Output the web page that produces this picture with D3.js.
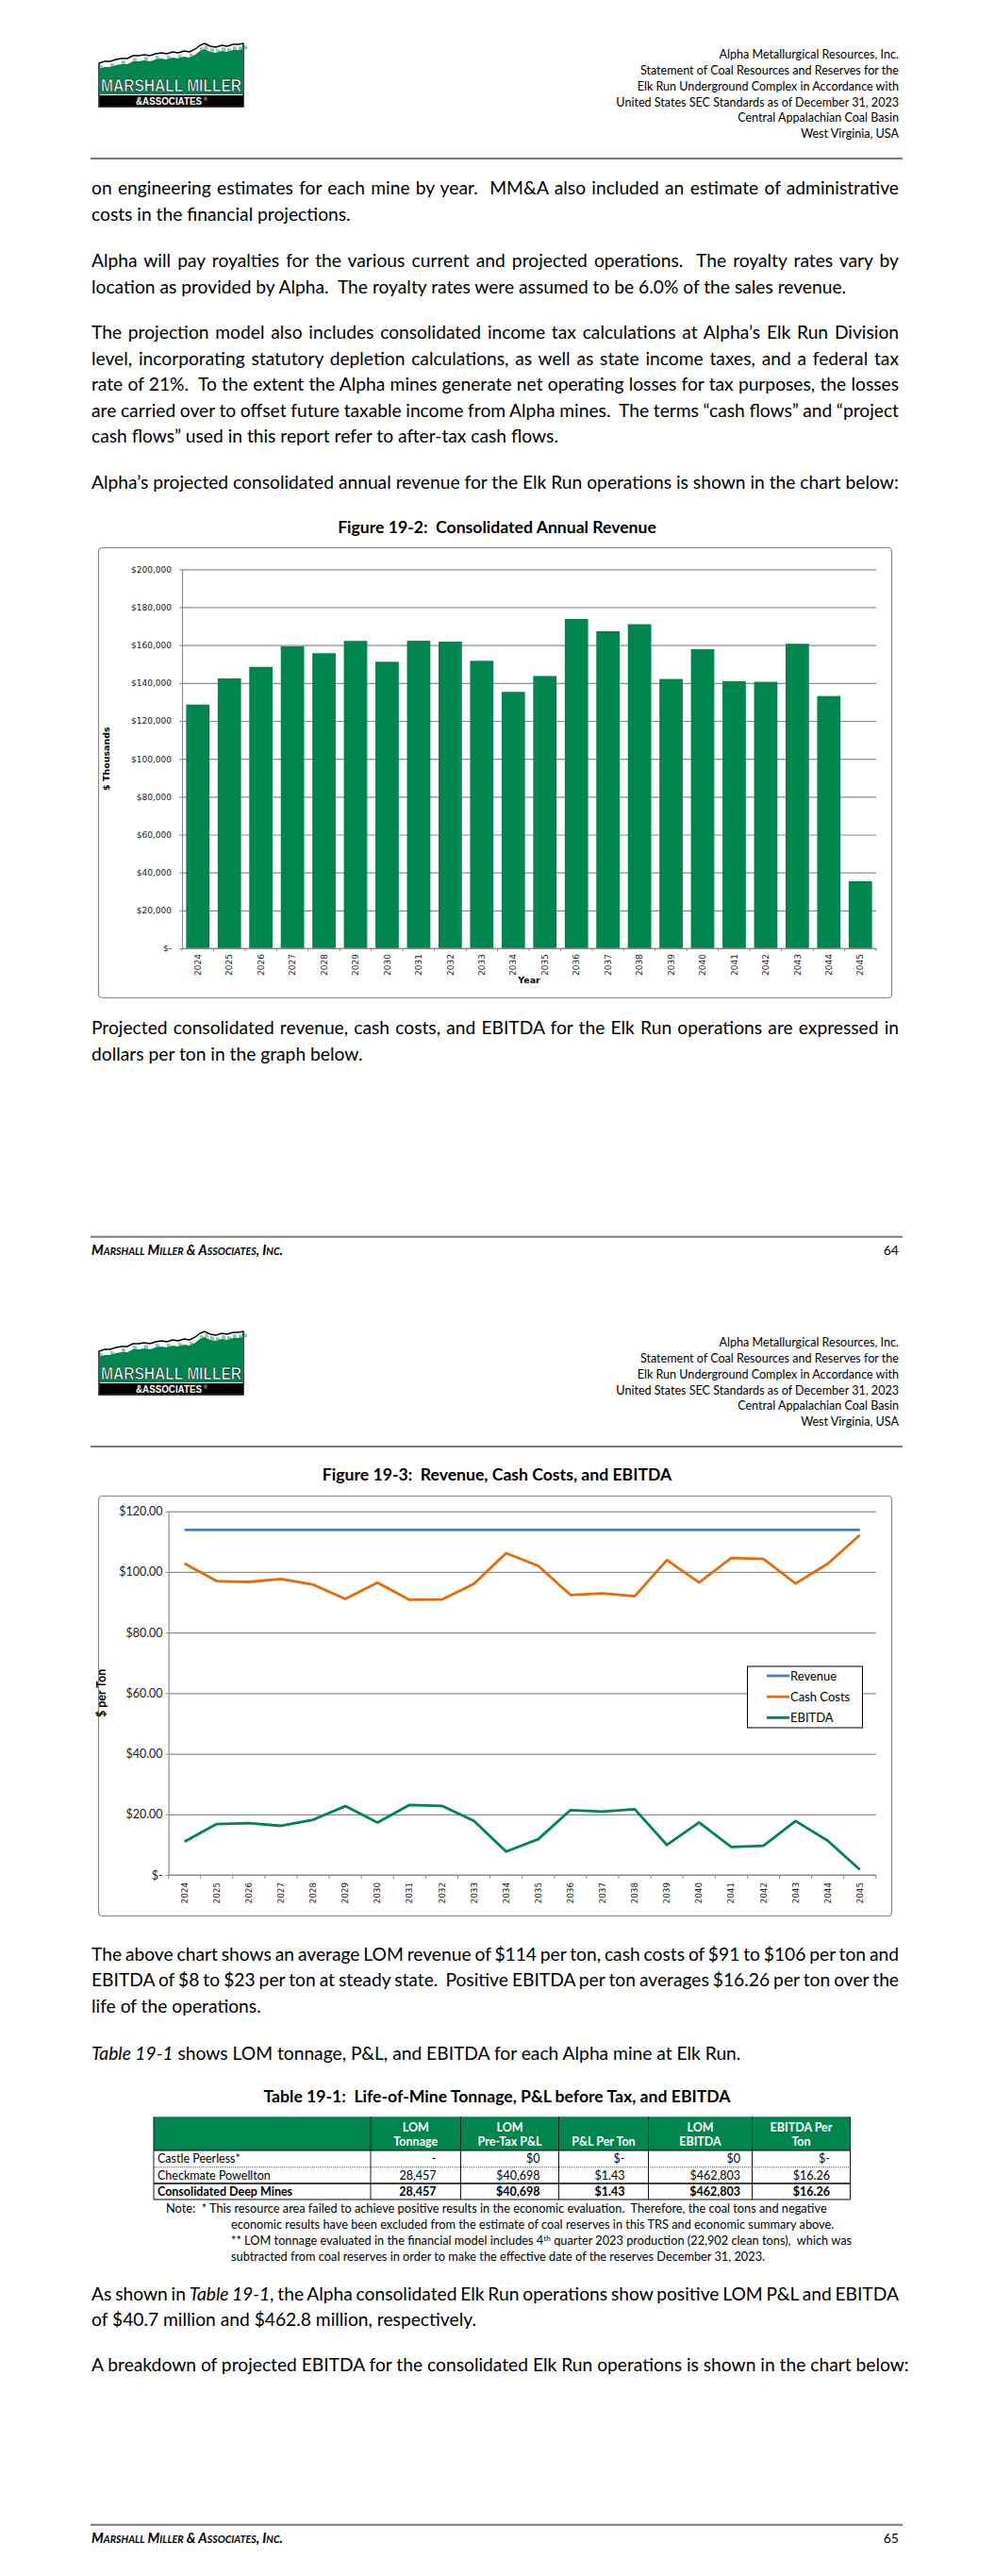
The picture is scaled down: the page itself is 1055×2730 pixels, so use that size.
<!DOCTYPE html>
<html><head><meta charset="utf-8">
<script src="https://cdn.jsdelivr.net/npm/d3@7"></script>
<style>
html,body{margin:0;padding:0;background:#fff;}
svg{display:block;}
text{white-space:pre;}
</style></head><body>
<script>
// ---------------- DATA ----------------
const years = ["2024","2025","2026","2027","2028","2029","2030","2031","2032","2033","2034",
               "2035","2036","2037","2038","2039","2040","2041","2042","2043","2044","2045"];
// Figure 19-2 : consolidated annual revenue ($ thousands)
const annualRevenue = [128600,142400,148500,159300,155700,162200,151200,162300,161800,151700,135300,
                       143700,173800,167300,171000,142100,157800,140900,140600,160700,133100,35400];
const barTicks = [0,20000,40000,60000,80000,100000,120000,140000,160000,180000,200000];
// Figure 19-3 : $ per ton
const seriesNames = ["Revenue","Cash Costs","EBITDA"];
const revenuePerTon = [113.9,113.9,113.9,113.9,113.9,113.9,113.9,113.9,113.9,113.9,113.9,
                       113.9,113.9,113.9,113.9,113.9,113.9,113.9,113.9,113.9,113.9,113.9];
const cashCostPerTon = [102.8,97.0,96.7,97.7,95.8,91.1,96.5,90.8,90.9,96.1,106.2,
                        102.0,92.4,92.9,92.0,103.9,96.5,104.6,104.3,96.2,102.7,112.2];
const ebitdaPerTon = [11.0,16.8,17.1,16.2,18.2,22.7,17.3,23.1,22.8,17.8,7.7,
                      11.8,21.4,20.9,21.7,9.9,17.3,9.2,9.6,17.8,11.3,1.7];
const lineTicks = [0,20,40,60,80,100,120];
// Table 19-1
const tableHeaders = [["",""],["LOM","Tonnage"],["LOM","Pre-Tax P&L"],["","P&L Per Ton"],["LOM","EBITDA"],["EBITDA Per","Ton"]];
const tableRows = [
  ["Castle Peerless*","-","$0","$-","$0","$-"],
  ["Checkmate Powellton","28,457","$40,698","$1.43","$462,803","$16.26"],
  ["Consolidated Deep Mines","28,457","$40,698","$1.43","$462,803","$16.26"]
];
const headerLines = ["Alpha Metallurgical Resources, Inc.","Statement of Coal Resources and Reserves for the",
  "Elk Run Underground Complex in Accordance with","United States SEC Standards as of December 31, 2023",
  "Central Appalachian Coal Basin","West Virginia, USA"];

// ---------------- SETUP ----------------
const W=1055,H=2730, L=97, R=953;
const GREEN="#00854f", FONT="Lato, 'Open Sans', sans-serif", CHARTFONT="'DejaVu Sans', Verdana, sans-serif";
const svg=d3.select("body").append("svg").attr("width",W).attr("height",H);
svg.append("rect").attr("width",W).attr("height",H).attr("fill","#fff");

const meas=svg.append("text").attr("x",-2000).attr("y",-2000).style("font-family",FONT);
function textWidth(str,size,weight="normal",style="normal"){
  meas.style("font-size",size+"px").style("font-weight",weight).style("font-style",style).text(str);
  return meas.node().getComputedTextLength();
}
function fitSize(str,target,weight="normal"){return 100*target/textWidth(str,100,weight);}

const bodySize=fitSize("Alpha’s projected consolidated annual revenue for the Elk Run operations is shown in the chart below:",856);
const headSize=fitSize("United States SEC Standards as of December 31, 2023",300);
const capSize=fitSize("Figure 19-2:  Consolidated Annual Revenue",338,"bold");
const noteSize=fitSize("Note:  * This resource area failed to achieve positive results in the economic evaluation.  Therefore, the coal tons and negative",701);

function bodyLine(str,cy,justify){
  const t=svg.append("text").attr("x",L).attr("y",cy+bodySize*0.32)
    .style("font-family",FONT).style("font-size",bodySize+"px").attr("fill","#000");
  str.split("_").forEach((seg,i)=>{ if(seg) t.append("tspan").style("font-style",i%2?"italic":"normal").text(seg); });
  if(justify){
    const w=t.node().getComputedTextLength();
    const n=(str.match(/ /g)||[]).length;
    t.style("word-spacing",((R-L)-w)/n+"px");
  }
}
function caption(str,cy){
  svg.append("text").attr("x",527).attr("y",cy+capSize*0.33).attr("text-anchor","middle")
    .style("font-family",FONT).style("font-weight","bold").style("font-size",capSize+"px").text(str);
}

function drawLogo(ox,oy){
  const g=svg.append("g").attr("transform",`translate(${ox},${oy})`);
  const ridge=[[1,22],[7,20],[13,20],[19,18],[25,17],[31,17],[37,14],[43,14],[49,13],[55,14],[61,12],[67,11],
    [73,12],[79,10],[85,11],[91,9],[97,10],[103,7],[108,3],[113,1],[119,4],[125,5],[131,3],[137,4],[143,2],[149,2],[154,1]];
  const ln=d3.line();
  g.append("path").attr("d",ln([...ridge,[154,68],[1,68]])+"Z").attr("fill","#fff").attr("stroke","#000").attr("stroke-width",1.4);
  g.append("path").attr("d",ln([...ridge.map(([x,y])=>[x,y+6]),[153.5,55],[1.5,55]])+"Z").attr("fill",GREEN);
  ridge.forEach(([x,y],i)=>{ if(i%2===0||i>18){
    g.append("line").attr("x1",x+1).attr("x2",x+1).attr("y1",y+2).attr("y2",y+6.5).attr("stroke",GREEN).attr("stroke-width",0.9);
    g.append("line").attr("x1",x+3).attr("x2",x+3).attr("y1",y+2.5).attr("y2",y+6.5).attr("stroke",GREEN).attr("stroke-width",0.9);
  }});
  g.append("rect").attr("x",1.5).attr("y",56).attr("width",152.5).attr("height",11.5).attr("fill","#000");
  g.append("text").attr("x",3).attr("y",52).attr("textLength",149).attr("lengthAdjust","spacingAndGlyphs")
    .style("font-family","'Liberation Sans Narrow','Liberation Sans',sans-serif").style("font-weight","bold").style("font-size","19px")
    .attr("fill","#fff").attr("stroke","#000").attr("stroke-width",0.6).text("MARSHALL MILLER");
  g.append("text").attr("x",40).attr("y",65.5).attr("textLength",70).attr("lengthAdjust","spacingAndGlyphs")
    .style("font-family","'Liberation Sans Narrow','Liberation Sans',sans-serif").style("font-weight","bold").style("font-size","11px")
    .attr("fill","#fff").text("&ASSOCIATES");
  g.append("text").attr("x",112).attr("y",62).style("font-size","5px").attr("fill","#fff").style("font-family","sans-serif").text("®");
}
function pageHeader(dy){
  drawLogo(104,45+dy);
  const cys=[58,75,92,108.5,125,142];
  headerLines.forEach((s,i)=>svg.append("text").attr("x",R).attr("y",cys[i]+dy+headSize*0.32).attr("text-anchor","end")
    .style("font-family",FONT).style("font-size",headSize+"px").attr("fill","#000").text(s));
  svg.append("line").attr("x1",96).attr("x2",957).attr("y1",168+dy).attr("y2",168+dy).attr("stroke","#7a7a7a").attr("stroke-width",2);
}
function pageFooter(dy,num){
  svg.append("line").attr("x1",96).attr("x2",957).attr("y1",1310.7+dy).attr("y2",1310.7+dy).attr("stroke","#7a7a7a").attr("stroke-width",2);
  svg.append("text").attr("x",L).attr("y",1330+dy).attr("textLength",203).attr("lengthAdjust","spacingAndGlyphs")
    .style("font-family",FONT).style("font-size","15px").style("font-weight","bold").style("font-style","italic")
    .style("font-variant","small-caps").text("Marshall Miller & Associates, Inc.");
  svg.append("text").attr("x",R).attr("y",1330+dy).attr("text-anchor","end").style("font-family",FONT).style("font-size","14px").text(num);
}

// ---------------- PAGE 1 ----------------
pageHeader(0);
bodyLine("on engineering estimates for each mine by year.  MM&A also included an estimate of administrative",200,true);
bodyLine("costs in the financial projections.",227.5,false);
bodyLine("Alpha will pay royalties for the various current and projected operations.  The royalty rates vary by",277,true);
bodyLine("location as provided by Alpha.  The royalty rates were assumed to be 6.0% of the sales revenue.",304.5,false);
bodyLine("The projection model also includes consolidated income tax calculations at Alpha’s Elk Run Division",353,true);
bodyLine("level, incorporating statutory depletion calculations, as well as state income taxes, and a federal tax",380.5,true);
bodyLine("rate of 21%.  To the extent the Alpha mines generate net operating losses for tax purposes, the losses",408,true);
bodyLine("are carried over to offset future taxable income from Alpha mines.  The terms “cash flows” and “project",435.5,true);
bodyLine("cash flows” used in this report refer to after-tax cash flows.",463,false);
bodyLine("Alpha’s projected consolidated annual revenue for the Elk Run operations is shown in the chart below:",512,false);
caption("Figure 19-2:  Consolidated Annual Revenue",559);

// ---- Bar chart ----
(function(){
  const g=svg.append("g");
  g.append("rect").attr("x",104.5).attr("y",580.5).attr("width",841).attr("height",477).attr("rx",4)
    .attr("fill","#fff").attr("stroke","#8a8a8a").attr("stroke-width",1.2);
  const x=d3.scaleBand().domain(years).range([193,929]).paddingInner(0.26).paddingOuter(0.13);
  const y=d3.scaleLinear().domain([0,200000]).range([1005,603.3]);
  const gx0=x.range()[0];
  g.append("g").attr("transform",`translate(${gx0},0)`)
    .call(d3.axisLeft(y).tickValues(barTicks).tickSize(-(x.range()[1]-gx0)).tickFormat(""))
    .call(s=>{s.select(".domain").remove();s.selectAll("line").attr("stroke","#8c8c8c").attr("stroke-width",1.2);});
  g.selectAll("rect.bar").data(years).join("rect").attr("class","bar")
    .attr("x",d=>x(d)).attr("width",x.bandwidth())
    .attr("y",(d,i)=>y(annualRevenue[i])).attr("height",(d,i)=>y(0)-y(annualRevenue[i])).attr("fill",GREEN);
  g.append("g").attr("transform",`translate(${gx0},0)`)
    .call(d3.axisLeft(y).tickValues(barTicks).tickSize(3).tickSizeOuter(0).tickPadding(8)
      .tickFormat(v=>v===0?"$-":"$"+d3.format(",")(v)))
    .call(s=>{s.select(".domain").attr("stroke","#8c8c8c").attr("stroke-width",1.2);
      s.selectAll("line").attr("stroke","#8c8c8c");
      s.selectAll("text").style("font-family",CHARTFONT).style("font-size","9px").attr("fill","#222");});
  g.append("line").attr("x1",gx0).attr("x2",x.range()[1]).attr("y1",y(0)).attr("y2",y(0)).attr("stroke","#8c8c8c").attr("stroke-width",1.2);
  d3.range(years.length+1).forEach(i=>{
    const bx=gx0+i*x.step();
    g.append("line").attr("x1",bx).attr("x2",bx).attr("y1",y(0)).attr("y2",y(0)+3).attr("stroke","#8c8c8c");
  });
  g.selectAll("text.xl").data(years).join("text").attr("class","xl")
    .attr("transform",d=>`translate(${x(d)+x.bandwidth()/2},1011) rotate(-90)`)
    .attr("text-anchor","end").attr("dy","0.35em")
    .style("font-family",CHARTFONT).style("font-size","9px").attr("fill","#222").text(d=>d);
  g.append("text").attr("x",(gx0+x.range()[1])/2).attr("y",1042).attr("text-anchor","middle")
    .style("font-family",CHARTFONT).style("font-size","9.5px").style("font-weight","bold").text("Year");
  g.append("text").attr("transform",`translate(116,${(y(0)+y(200000))/2}) rotate(-90)`).attr("text-anchor","middle")
    .style("font-family",CHARTFONT).style("font-size","9.5px").style("font-weight","bold").text("$ Thousands");
})();

bodyLine("Projected consolidated revenue, cash costs, and EBITDA for the Elk Run operations are expressed in",1090,true);
bodyLine("dollars per ton in the graph below.",1117.5,false);
pageFooter(0,"64");

// ---------------- PAGE 2 ----------------
const P2=1365;
pageHeader(P2);
caption("Figure 19-3:  Revenue, Cash Costs, and EBITDA",1563.3);

// ---- Line chart ----
(function(){
  const g=svg.append("g");
  g.append("rect").attr("x",104.5).attr("y",1585.5).attr("width",841).attr("height",445).attr("rx",4)
    .attr("fill","#fff").attr("stroke","#8a8a8a").attr("stroke-width",1.2);
  const x=d3.scaleBand().domain(years).range([178.6,928.8]);
  const y=d3.scaleLinear().domain([0,120]).range([1987,1601.7]);
  const gx0=x.range()[0], gx1=x.range()[1];
  g.append("g").attr("transform",`translate(${gx0},0)`)
    .call(d3.axisLeft(y).tickValues(lineTicks).tickSize(-(gx1-gx0)).tickFormat(""))
    .call(s=>{s.select(".domain").remove();s.selectAll("line").attr("stroke","#8c8c8c").attr("stroke-width",1.2);});
  g.append("g").attr("transform",`translate(${gx0},0)`)
    .call(d3.axisLeft(y).tickValues(lineTicks).tickSize(3).tickSizeOuter(0).tickPadding(3)
      .tickFormat(v=>v===0?"$-":"$"+d3.format(".2f")(v)))
    .call(s=>{s.select(".domain").attr("stroke","#8c8c8c").attr("stroke-width",1.2);
      s.selectAll("line").attr("stroke","#8c8c8c");
      s.selectAll("text").style("font-family",FONT).style("font-size","12.5px").attr("fill","#222");});
  g.append("line").attr("x1",gx0).attr("x2",gx1).attr("y1",y(0)).attr("y2",y(0)).attr("stroke","#8c8c8c").attr("stroke-width",1.2);
  d3.range(years.length+1).forEach(i=>{
    const bx=gx0+i*x.step();
    g.append("line").attr("x1",bx).attr("x2",bx).attr("y1",y(0)).attr("y2",y(0)+4).attr("stroke","#8c8c8c");
  });
  g.selectAll("text.xl").data(years).join("text").attr("class","xl")
    .attr("transform",d=>`translate(${x(d)+x.bandwidth()/2},1995) rotate(-90)`)
    .attr("text-anchor","end").attr("dy","0.35em")
    .style("font-family",CHARTFONT).style("font-size","8.8px").attr("fill","#222").text(d=>d);
  g.append("text").attr("transform",`translate(112,${(y(0)+y(120))/2}) rotate(-90)`).attr("text-anchor","middle")
    .style("font-family",FONT).style("font-size","12.5px").style("font-weight","bold").text("$ per Ton");
  const colors=["#4a7ebb","#e46c0a",GREEN];
  const series=[revenuePerTon,cashCostPerTon,ebitdaPerTon];
  const line=d3.line().x((d,i)=>x(years[i])+x.bandwidth()/2).y(d=>y(d));
  series.forEach((vals,k)=>g.append("path").attr("d",line(vals)).attr("fill","none")
    .attr("stroke",colors[k]).attr("stroke-width",2.8).attr("stroke-linejoin","round"));
  // legend
  const lg=g.append("g");
  lg.append("rect").attr("x",792.5).attr("y",1766).attr("width",122).attr("height",65).attr("fill","#fff").attr("stroke","#000").attr("stroke-width",1);
  seriesNames.forEach((nm,k)=>{
    const cy=1776+k*22.2;
    lg.append("line").attr("x1",813).attr("x2",837).attr("y1",cy).attr("y2",cy).attr("stroke",colors[k]).attr("stroke-width",2.8);
    lg.append("text").attr("x",838).attr("y",cy+4.5).style("font-family",FONT).style("font-size","13px").text(nm);
  });
})();

bodyLine("The above chart shows an average LOM revenue of $114 per ton, cash costs of $91 to $106 per ton and",2071.7,true);
bodyLine("EBITDA of $8 to $23 per ton at steady state.  Positive EBITDA per ton averages $16.26 per ton over the",2099.2,true);
bodyLine("life of the operations.",2126.7,false);
bodyLine("_Table 19-1_ shows LOM tonnage, P&L, and EBITDA for each Alpha mine at Elk Run.",2176.7,false);
caption("Table 19-1:  Life-of-Mine Tonnage, P&L before Tax, and EBITDA",2221.7);

// ---- Table ----
(function(){
  const cols=[163,393,488.5,592.5,687.5,797.5,901.5];
  const pads=[0,26,20,25,12.5,21.5];
  const hTop=2243.3,hBot=2279;
  const rowB=[[2279,2296.7],[2296.7,2314],[2314,2331]];
  const g=svg.append("g").style("font-family",FONT);
  g.append("rect").attr("x",cols[0]).attr("y",hTop).attr("width",cols[6]-cols[0]).attr("height",hBot-hTop).attr("fill",GREEN);
  tableHeaders.forEach((h,c)=>{
    if(c===0) return;
    const cx=(cols[c]+cols[c+1])/2;
    h.forEach((s,k)=>{ if(s) g.append("text").attr("x",cx).attr("y",(k?2270:2255)+4.3).attr("text-anchor","middle")
      .style("font-size","12.5px").style("font-weight","bold").attr("fill","#fff").text(s); });
  });
  tableRows.forEach((row,r)=>{
    const cy=(rowB[r][0]+rowB[r][1])/2;
    row.forEach((v,c)=>{
      const t=g.append("text").attr("y",cy+4.3).style("font-size","12.5px").style("font-weight",r===2?"bold":"normal").text(v);
      if(c===0) t.attr("x",cols[0]+4); else t.attr("x",cols[c+1]-pads[c]).attr("text-anchor","end");
    });
  });
  g.append("line").attr("x1",cols[0]).attr("x2",cols[6]).attr("y1",hBot).attr("y2",hBot).attr("stroke","#000").attr("stroke-width",1.2);
  g.append("line").attr("x1",cols[0]).attr("x2",cols[6]).attr("y1",rowB[0][1]).attr("y2",rowB[0][1]).attr("stroke","#555").attr("stroke-dasharray","1,1");
  g.append("line").attr("x1",cols[0]).attr("x2",cols[6]).attr("y1",rowB[1][1]).attr("y2",rowB[1][1]).attr("stroke","#000").attr("stroke-width",1.4);
  g.append("line").attr("x1",cols[0]).attr("x2",cols[6]).attr("y1",rowB[2][1]).attr("y2",rowB[2][1]).attr("stroke","#000").attr("stroke-width",1.2);
  cols.forEach((cx)=>g.append("line").attr("x1",cx).attr("x2",cx).attr("y1",hTop).attr("y2",rowB[2][1])
    .attr("stroke","#1a1a1a").attr("stroke-width",1));
  const nt=(x,cy)=>g.append("text").attr("x",x).attr("y",cy+noteSize*0.32).style("font-size",noteSize+"px");
  nt(176,2340.7).text("Note:  * This resource area failed to achieve positive results in the economic evaluation.  Therefore, the coal tons and negative");
  nt(245,2358).text("economic results have been excluded from the estimate of coal reserves in this TRS and economic summary above.");
  const t3=nt(245,2375);
  t3.append("tspan").text("** LOM tonnage evaluated in the financial model includes 4");
  t3.append("tspan").attr("dy",-4).style("font-size",(noteSize*0.65)+"px").text("th");
  t3.append("tspan").attr("dy",4).text(" quarter 2023 production (22,902 clean tons),  which was");
  nt(245,2391.7).text("subtracted from coal reserves in order to make the effective date of the reserves December 31, 2023.");
})();

bodyLine("As shown in _Table 19-1_, the Alpha consolidated Elk Run operations show positive LOM P&L and EBITDA",2431.7,true);
bodyLine("of $40.7 million and $462.8 million, respectively.",2459.2,false);
bodyLine("A breakdown of projected EBITDA for the consolidated Elk Run operations is shown in the chart below:",2506.7,false);
pageFooter(P2,"65");
meas.remove();
</script>
</body></html>
